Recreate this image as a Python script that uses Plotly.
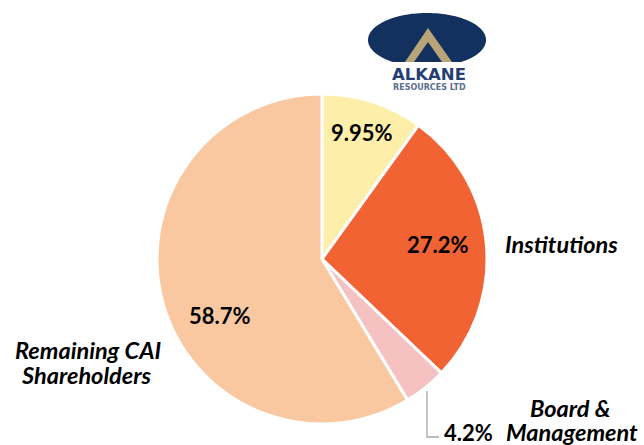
import numpy as np
import plotly.graph_objects as go

# ---- data ----
categories = ["Alkane Resources", "Institutions", "Board & Management", "Remaining CAI Shareholders"]
values = [9.95, 27.2, 4.2, 58.7]
value_text = ["9.95%", "27.2%", "4.2%", "58.7%"]
colors = ["#FDEFA9", "#F26333", "#F5C2C1", "#F9C8A0"]

W, H = 644, 445

def px(x):
    return x / W

def py(y):
    return 1 - y / H

fig = go.Figure()

# pie: centre (322, 259), radius 165
cx, cy, r = 322, 259, 165
fig.add_trace(go.Pie(
    labels=categories,
    values=values,
    sort=False,
    direction="clockwise",
    rotation=0,
    marker=dict(colors=colors, line=dict(color="white", width=3)),
    textinfo="none",
    hoverinfo="label+percent",
    showlegend=False,
    domain=dict(x=[px(cx - r), px(cx + r)], y=[py(cy + r), py(cy - r)]),
))

num_font = dict(family="Lato, 'Open Sans', sans-serif", size=22, color="#000000")
lab_font = dict(family="Lato, 'Open Sans', sans-serif", size=23.5, color="#000000")

annotations = []
# in-slice value labels
for txt, (x, y) in zip([value_text[0], value_text[1], value_text[3]],
                       [(362, 132), (438, 244), (220, 315)]):
    annotations.append(dict(x=px(x), y=py(y), xref="paper", yref="paper", text="<b>%s</b>" % txt,
                            showarrow=False, font=num_font, xanchor="center", yanchor="middle"))
# 4.2% outside label
annotations.append(dict(x=px(468), y=py(432), xref="paper", yref="paper", text="<b>%s</b>" % value_text[2],
                        showarrow=False, font=num_font, xanchor="center", yanchor="middle"))
# category labels
label_lines = [
    ("Institutions", 561, 244),
    ("Remaining CAI", 88, 350),
    ("Shareholders", 86, 375),
    ("Board &amp;", 570, 408),
    ("Management", 572, 432),
]
for txt, x, y in label_lines:
    annotations.append(dict(x=px(x), y=py(y), xref="paper", yref="paper", text="<b><i>%s</i></b>" % txt,
                            showarrow=False, font=lab_font, xanchor="center", yanchor="middle"))
# logo text
annotations.append(dict(x=px(429), y=py(74), xref="paper", yref="paper", text="<b>ALKANE</b>",
                        showarrow=False, font=dict(family="DejaVu Sans", size=16.5, color="#243F73"),
                        xanchor="center", yanchor="middle"))
annotations.append(dict(x=px(429), y=py(87), xref="paper", yref="paper", text="<b>RESOURCES LTD</b>",
                        showarrow=False, font=dict(family="DejaVu Sans", size=8, color="#5A6E8E"),
                        xanchor="center", yanchor="middle"))

shapes = []
# leader line for 4.2%
shapes.append(dict(type="path", xref="paper", yref="paper",
                   path="M %f %f L %f %f L %f %f" % (px(427), py(391), px(427), py(437), px(439), py(437)),
                   line=dict(color="#A6A6A6", width=1.3)))

# logo: flattened ellipse
ex, ey, erx, ery, cut = 427, 40, 59, 27, 62
t = np.linspace(0, 2 * np.pi, 180)
xs = ex + erx * np.cos(t)
ys = np.minimum(ey + ery * np.sin(t), cut)
path = "M " + " L ".join("%f %f" % (px(a), py(b)) for a, b in zip(xs, ys)) + " Z"
shapes.append(dict(type="path", xref="paper", yref="paper", path=path,
                   fillcolor="#12315F", line=dict(width=0)))
# gold triangle
shapes.append(dict(type="path", xref="paper", yref="paper",
                   path="M %f %f L %f %f L %f %f Z" % (px(428), py(28), px(452), py(62), px(405), py(62)),
                   fillcolor="#B9A577", line=dict(width=0)))
# inner dark triangle
shapes.append(dict(type="path", xref="paper", yref="paper",
                   path="M %f %f L %f %f L %f %f Z" % (px(428), py(42), px(442), py(62), px(414), py(62)),
                   fillcolor="#12315F", line=dict(width=0)))

fig.update_layout(
    width=W, height=H,
    margin=dict(l=0, r=0, t=0, b=0),
    paper_bgcolor="white",
    plot_bgcolor="white",
    annotations=annotations,
    shapes=shapes,
)

fig.write_html("out.html", config={"displayModeBar": False},
               post_script="document.body.style.margin='0';document.body.style.overflow='hidden';")
